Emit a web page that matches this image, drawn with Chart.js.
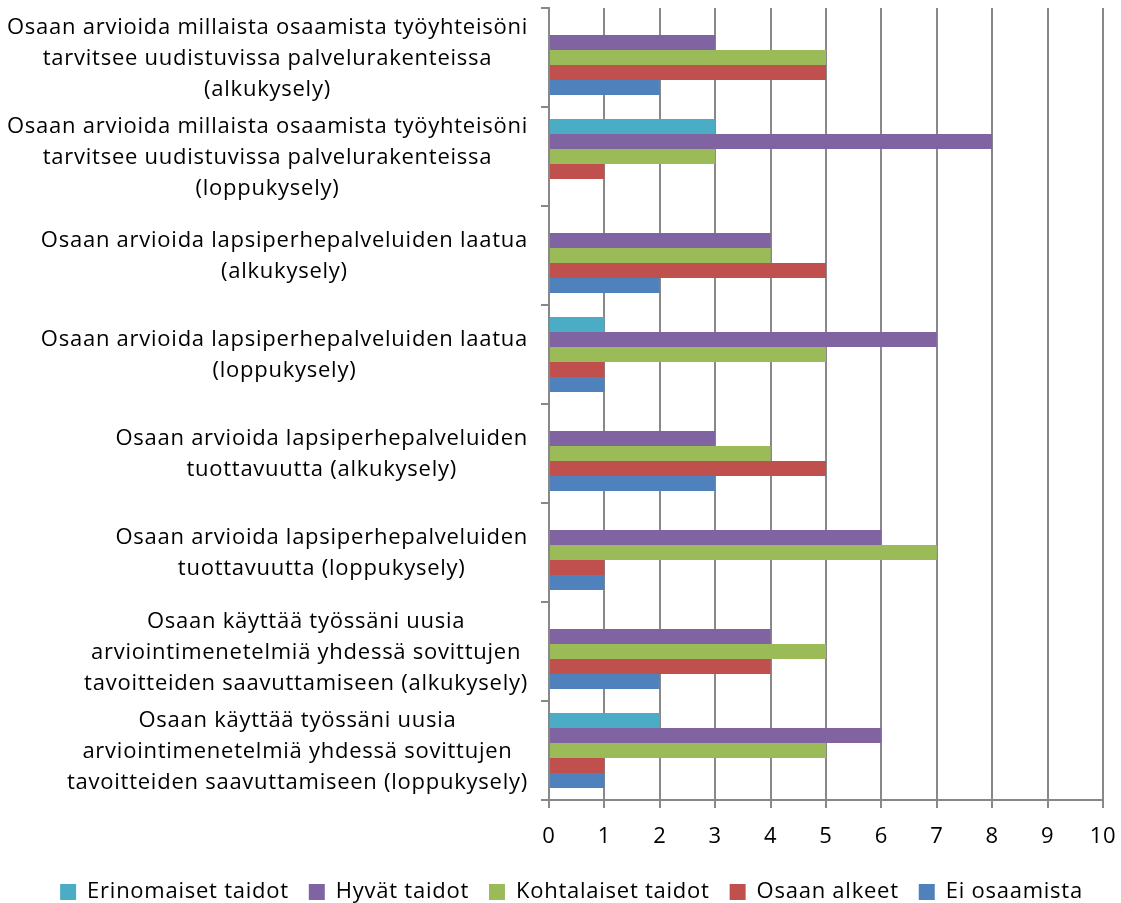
<!DOCTYPE html>
<html><head><meta charset="utf-8">
<script src="https://cdn.jsdelivr.net/npm/chart.js@4/dist/chart.umd.min.js"></script>
<style>html,body{margin:0;padding:0;background:#fff;overflow:hidden}</style>
</head><body>
<canvas id="c" width="1121" height="903"></canvas>
<script>
const categories = [
  ["Osaan arvioida millaista osaamista työyhteisöni", "tarvitsee uudistuvissa palvelurakenteissa", "(alkukysely)"],
  ["Osaan arvioida millaista osaamista työyhteisöni", "tarvitsee uudistuvissa palvelurakenteissa", "(loppukysely)"],
  ["Osaan arvioida lapsiperhepalveluiden laatua", "(alkukysely)"],
  ["Osaan arvioida lapsiperhepalveluiden laatua", "(loppukysely)"],
  ["Osaan arvioida lapsiperhepalveluiden", "tuottavuutta (alkukysely)"],
  ["Osaan arvioida lapsiperhepalveluiden", "tuottavuutta (loppukysely)"],
  ["Osaan käyttää työssäni uusia", "arviointimenetelmiä yhdessä sovittujen", "tavoitteiden saavuttamiseen (alkukysely)"],
  ["Osaan käyttää työssäni uusia", "arviointimenetelmiä yhdessä sovittujen", "tavoitteiden saavuttamiseen (loppukysely)"]
];
const seriesNames = ["Erinomaiset taidot", "Hyvät taidot", "Kohtalaiset taidot", "Osaan alkeet", "Ei osaamista"];
const erinomaiset = [0, 3, 0, 1, 0, 0, 0, 2];
const hyvat       = [3, 8, 4, 7, 3, 6, 4, 6];
const kohtalaiset = [5, 3, 4, 5, 4, 7, 5, 5];
const alkeet      = [5, 1, 5, 1, 5, 1, 4, 1];
const eiOsaamista = [2, 0, 2, 1, 3, 1, 2, 1];
const xMin = 0, xMax = 10, xStep = 1;

const colors = ["#4BACC6", "#8064A2", "#9BBB59", "#C0504D", "#4F81BD"];
const seriesValues = [erinomaiset, hyvat, kohtalaiset, alkeet, eiOsaamista];

const FONT = "'Open Sans'";
const SPACING = "0.75px";

const spacingPlugin = {
  id: 'spacing',
  beforeLayout(chart) { chart.ctx.letterSpacing = SPACING; },
  beforeDraw(chart) { chart.ctx.letterSpacing = SPACING; }
};

const labelPlugin = {
  id: 'catLabels',
  afterDraw(chart) {
    const ys = chart.scales.y;
    const ctx = chart.ctx;
    ctx.save();
    ctx.letterSpacing = SPACING;
    ctx.font = "22px " + FONT;
    ctx.fillStyle = "#000";
    ctx.textAlign = "center";
    ctx.textBaseline = "middle";
    const lineH = 31;
    const right = ys.right - 21;
    categories.forEach((lines, i) => {
      const yc = ys.getPixelForValue(i);
      const w = Math.max(...lines.map(l => ctx.measureText(l).width));
      const cx = right - w / 2;
      lines.forEach((l, j) => {
        ctx.fillText(l, cx, yc + 1 + (j - (lines.length - 1) / 2) * lineH);
      });
    });
    ctx.restore();
  }
};

const legendPlace = {
  id: 'legendPlace',
  beforeLayout(chart) {
    const lg = chart.legend;
    if (lg && !lg._patched) {
      const fit = lg.fit;
      lg.fit = function () { fit.call(this); this.height = 57; };
      lg._patched = true;
    }
  },
  afterLayout(chart) {
    const lg = chart.legend;
    if (lg) {
      const h = lg.height;
      lg.top = 861; lg.bottom = 861 + h;
      lg.left += 20; lg.right += 20;
    }
  }
};

new Chart(document.getElementById('c'), {
  type: 'bar',
  data: {
    labels: categories,
    datasets: seriesNames.map((n, k) => ({
      label: n,
      data: seriesValues[k],
      backgroundColor: colors[k],
      borderWidth: 0,
      categoryPercentage: 0.76,
      barPercentage: 1.0
    }))
  },
  options: {
    indexAxis: 'y',
    responsive: false,
    animation: false,
    devicePixelRatio: 1,
    layout: { padding: { top: 8, right: 18, left: 0, bottom: 0 } },
    plugins: {
      legend: {
        position: 'bottom',
        labels: {
          font: { family: FONT, size: 22 },
          color: '#000',
          boxWidth: 16,
          boxHeight: 16,
          padding: 20
        }
      },
      tooltip: { enabled: false }
    },
    scales: {
      x: {
        min: xMin, max: xMax,
        ticks: { stepSize: xStep, font: { family: FONT, size: 22 }, color: '#000', padding: 16 },
        grid: { color: '#888888', lineWidth: 2, tickLength: 8 },
        border: { color: '#888888', width: 2 },
        afterFit(s) { s.height = 46; s.paddingLeft = 0; s.paddingRight = 0; }
      },
      y: {
        ticks: { display: false },
        grid: { drawOnChartArea: false, color: '#888888', lineWidth: 2, tickLength: 8, offset: true },
        border: { color: '#888888', width: 2 },
        afterFit(s) { s.width = 549; }
      }
    }
  },
  plugins: [spacingPlugin, labelPlugin, legendPlace]
});
</script>
</body></html>
